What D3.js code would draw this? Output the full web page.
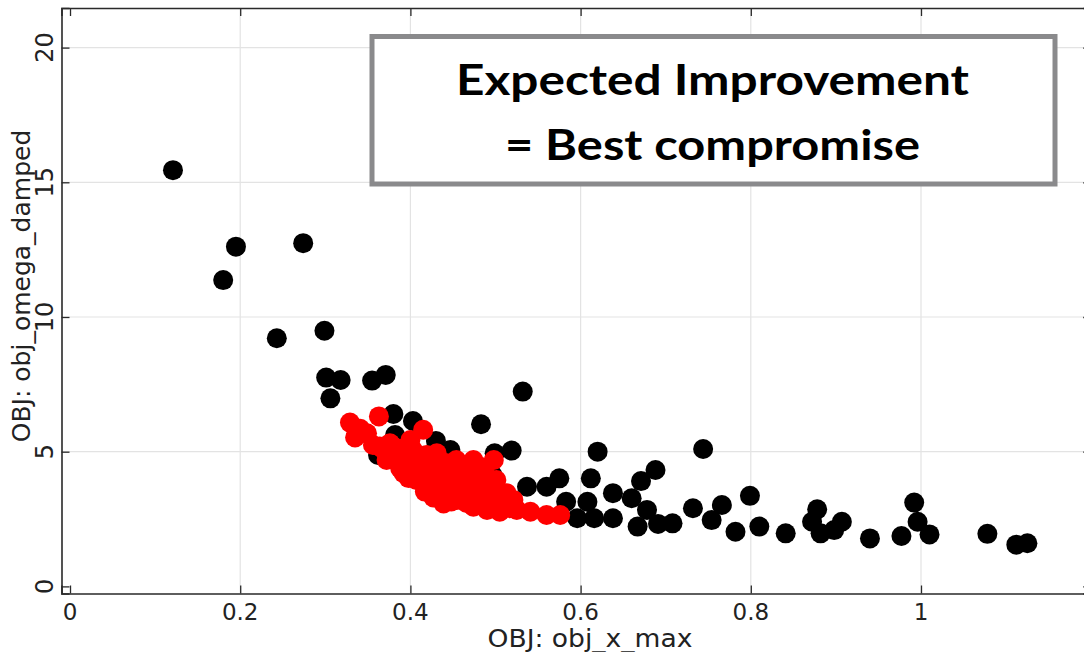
<!DOCTYPE html>
<html>
<head>
<meta charset="utf-8">
<script src="https://cdn.jsdelivr.net/npm/d3@7"></script>
<style>
  html, body { margin: 0; padding: 0; background: #fff; }
  svg { display: block; }
</style>
</head>
<body>
<svg id="chart" width="1084" height="652"></svg>
<script>
// ---- data ----
const xTicks = [0, 0.2, 0.4, 0.6, 0.8, 1];
const xTickLabels = ["0", "0.2", "0.4", "0.6", "0.8", "1"];
const yTicks = [0, 5, 10, 15, 20];
const yTickLabels = ["0", "5", "10", "15", "20"];
const xTitle = "OBJ: obj_x_max";
const yTitle = "OBJ: obj_omega_damped";
const boxLines = ["Expected Improvement", "= Best compromise"];

const blackX = [0.121, 0.180, 0.195, 0.274, 0.243, 0.299, 0.301, 0.318, 0.306, 0.355, 0.371, 0.532,
  0.483, 0.380, 0.403, 0.519, 0.499, 0.382, 0.430, 0.447, 0.362, 0.496, 0.537, 0.560, 0.575,
  0.620, 0.744, 0.612, 0.688, 0.671, 0.583, 0.608, 0.638, 0.660, 0.678, 0.596, 0.616, 0.638,
  0.667, 0.691, 0.708, 0.732, 0.754, 0.766, 0.782, 0.799, 0.810, 0.841, 0.878, 0.872, 0.882,
  0.907, 0.898, 0.940, 0.977, 0.992, 0.996, 1.010, 1.078, 1.112, 1.125];
const blackY = [15.45, 11.37, 12.61, 12.74, 9.21, 9.49, 7.75, 7.66, 6.98, 7.64, 7.85, 7.23,
  6.02, 6.40, 6.14, 5.04, 4.94, 5.62, 5.40, 5.06, 4.88, 4.15, 3.70, 3.70, 4.01,
  5.00, 5.10, 4.01, 4.32, 3.91, 3.14, 3.14, 3.46, 3.27, 2.84, 2.53, 2.53, 2.53,
  2.22, 2.32, 2.34, 2.90, 2.46, 3.02, 2.03, 3.36, 2.22, 1.97, 2.86, 2.40, 1.97,
  2.40, 2.09, 1.78, 1.87, 3.11, 2.40, 1.93, 1.95, 1.55, 1.60];

const redX = [0.329, 0.363, 0.335, 0.349, 0.356, 0.364, 0.376, 0.380, 0.396, 0.400, 0.415, 0.403,
  0.419, 0.431, 0.388, 0.372, 0.392, 0.407, 0.388, 0.443, 0.454, 0.474, 0.498, 0.482, 0.466,
  0.447, 0.407, 0.435, 0.458, 0.501, 0.427, 0.486, 0.474, 0.417, 0.435, 0.443, 0.458, 0.470,
  0.490, 0.513, 0.505, 0.427, 0.439, 0.454, 0.521, 0.474, 0.490, 0.505, 0.517, 0.525, 0.541,
  0.560, 0.576,
  0.341, 0.370, 0.384, 0.396, 0.410, 0.418, 0.425, 0.432, 0.440, 0.452, 0.462, 0.470, 0.478,
  0.488, 0.398, 0.412, 0.421, 0.448, 0.462, 0.480, 0.494, 0.448, 0.466, 0.482, 0.497, 0.510,
  0.431, 0.451, 0.395, 0.410, 0.426, 0.442, 0.460, 0.492];
const redY = [6.08, 6.31, 5.53, 5.68, 5.25, 5.19, 5.31, 5.19, 5.19, 5.43, 5.81, 5.06,
  4.88, 4.94, 4.81, 4.69, 4.20, 4.32, 4.38, 4.57, 4.69, 4.69, 4.69, 4.44, 4.20,
  4.07, 3.95, 3.95, 3.95, 3.95, 3.83, 3.70, 3.70, 3.52, 3.58, 3.46, 3.58, 3.33,
  3.46, 3.46, 3.33, 3.30, 3.08, 3.21, 3.21, 2.96, 2.84, 2.77, 2.90, 2.84, 2.77,
  2.65, 2.65,
  5.85, 5.02, 4.95, 4.60, 4.62, 4.45, 4.75, 4.30, 4.35, 4.40, 4.30, 4.45, 4.25,
  4.15, 4.02, 4.05, 3.80, 3.78, 3.90, 3.92, 3.80, 3.15, 3.10, 3.15, 3.05, 3.05,
  3.35, 3.35, 4.55, 4.80, 4.60, 4.10, 4.05, 3.55];

// ---- layout ----
const svg = d3.select("#chart");
const x = d3.scaleLinear().domain([-0.01, 1.2]).range([61.5, 1091.2]);
const y = d3.scaleLinear().domain([-0.264, 21.47]).range([593.5, 8]);
const [xl, xr] = x.range();
const [yb, yt] = y.range();
const font = "'DejaVu Sans', sans-serif";
const tickLen = 8;

// gridlines
const grid = svg.append("g");
grid.selectAll("line.gx").data(xTicks.filter(d => d !== 0)).join("line")
  .attr("x1", d => x(d)).attr("x2", d => x(d)).attr("y1", yt).attr("y2", yb)
  .attr("stroke", "#e3e3e3").attr("stroke-width", 1.2);
grid.selectAll("line.gy").data(yTicks.filter(d => d !== 0)).join("line")
  .attr("y1", d => y(d)).attr("y2", d => y(d)).attr("x1", xl).attr("x2", xr)
  .attr("stroke", "#e3e3e3").attr("stroke-width", 1.2);

// axes (ticks inward, labels drawn separately)
const axB = svg.append("g").attr("transform", `translate(0,${yb})`)
  .call(d3.axisTop(x).tickValues(xTicks).tickSize(tickLen).tickFormat(""));
const axT = svg.append("g").attr("transform", `translate(0,${yt})`)
  .call(d3.axisBottom(x).tickValues(xTicks).tickSize(tickLen).tickFormat(""));
const axL = svg.append("g").attr("transform", `translate(${xl},0)`)
  .call(d3.axisRight(y).tickValues(yTicks).tickSize(tickLen).tickFormat(""));
const axR = svg.append("g").attr("transform", `translate(${xr},0)`)
  .call(d3.axisLeft(y).tickValues(yTicks).tickSize(tickLen).tickFormat(""));
[axB, axT, axL, axR].forEach(g => {
  g.select(".domain").attr("stroke", "#2a2a2a").attr("stroke-width", 1.6);
  g.selectAll(".tick line").attr("stroke", "#2a2a2a").attr("stroke-width", 1.3);
});

// tick labels
svg.append("g").selectAll("text").data(xTicks).join("text")
  .attr("x", d => x(d)).attr("y", 620)
  .attr("text-anchor", "middle")
  .attr("font-family", font).attr("font-size", 23).attr("fill", "#222")
  .text((d, i) => xTickLabels[i]);
svg.append("g").selectAll("text").data(yTicks).join("text")
  .attr("transform", d => `translate(53,${y(d)}) rotate(-90)`)
  .attr("text-anchor", "middle")
  .attr("font-family", font).attr("font-size", 24).attr("fill", "#222")
  .text((d, i) => yTickLabels[i]);

// axis titles
svg.append("text").attr("x", 590).attr("y", 647)
  .attr("text-anchor", "middle").attr("font-family", font).attr("font-size", 25).attr("fill", "#222")
  .attr("textLength", 205).attr("lengthAdjust", "spacingAndGlyphs")
  .text(xTitle);
svg.append("text").attr("transform", "translate(29.5,286) rotate(-90)")
  .attr("text-anchor", "middle").attr("font-family", font).attr("font-size", 25).attr("fill", "#222")
  .text(yTitle);

// points
const r = 10;
svg.append("g").selectAll("circle").data(blackX.map((v, i) => [v, blackY[i]])).join("circle")
  .attr("cx", d => x(d[0])).attr("cy", d => y(d[1])).attr("r", r).attr("fill", "#000");
svg.append("g").selectAll("circle").data(redX.map((v, i) => [v, redY[i]])).join("circle")
  .attr("cx", d => x(d[0])).attr("cy", d => y(d[1])).attr("r", r).attr("fill", "#ff0000");

// annotation box
const box = svg.append("g");
box.append("rect").attr("x", 372).attr("y", 36.5).attr("width", 683).attr("height", 147.5)
  .attr("fill", "#fff").attr("stroke", "#8a8a8c").attr("stroke-width", 5);
const boxFont = "Lato, 'Open Sans', sans-serif";
box.append("text").attr("x", 712.5).attr("y", 95).attr("text-anchor", "middle")
  .attr("font-family", boxFont).attr("font-weight", 700).attr("font-size", 42).attr("fill", "#000")
  .attr("textLength", 513).attr("lengthAdjust", "spacingAndGlyphs")
  .text(boxLines[0]);
box.append("text").attr("x", 712.5).attr("y", 160).attr("text-anchor", "middle")
  .attr("font-family", boxFont).attr("font-weight", 700).attr("font-size", 42).attr("fill", "#000")
  .attr("textLength", 415).attr("lengthAdjust", "spacingAndGlyphs")
  .text(boxLines[1]);
</script>
</body>
</html>
